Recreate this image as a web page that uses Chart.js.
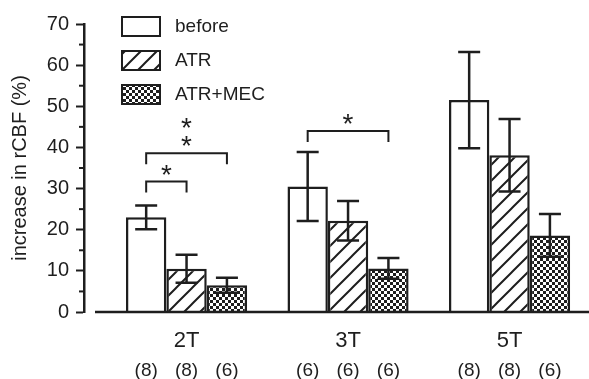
<!DOCTYPE html>
<html lang="en">
<head>
    <meta charset="UTF-8">
    <title>rCBF increase</title>
    <style>
        body {
            margin: 0;
            padding: 0;
            background-color: #ffffff;
        }
        #wrap {
            width: 589px;
            height: 379px;
        }
    </style>
</head>
<body>
    <div id="wrap">
        <canvas id="myChart" width="589" height="379"></canvas>
    </div>

    <script src="https://cdn.jsdelivr.net/npm/chart.js"></script>
    <script>
        // Data
        const categories = ['2T', '3T', '5T'];
        const seriesLabels = ['before', 'ATR', 'ATR+MEC'];

        const beforeMean = [23.0, 30.5, 51.5];
        const beforeSem = [2.9, 8.4, 11.7];
        const atrMean = [10.5, 22.2, 38.1];
        const atrSem = [3.4, 4.8, 8.8];
        const mecMean = [6.5, 10.6, 18.6];
        const mecSem = [1.8, 2.5, 5.2];

        const beforeN = [8, 6, 8];
        const atrN = [8, 6, 8];
        const mecN = [6, 6, 6];

        const yMin = 0;
        const yMax = 70;
        const yStep = 10;

        // significance brackets: category, first series, second series, height, number of stars
        const bracketCat = [0, 0, 1];
        const bracketFrom = [0, 0, 0];
        const bracketTo = [1, 2, 2];
        const bracketLevel = [31.7, 38.6, 44.0];
        const bracketStars = [1, 2, 1];

        const ink = '#1e1e1e';
        const means = [beforeMean, atrMean, mecMean];
        const sems = [beforeSem, atrSem, mecSem];
        const counts = [beforeN, atrN, mecN];

        const ctx = document.getElementById('myChart').getContext('2d');

        // fill patterns
        function hatchPattern() {
            const c = document.createElement('canvas');
            c.width = 16;
            c.height = 16;
            const g = c.getContext('2d');
            g.fillStyle = '#ffffff';
            g.fillRect(0, 0, 16, 16);
            g.strokeStyle = ink;
            g.lineWidth = 2;
            g.beginPath();
            g.moveTo(-2, 18); g.lineTo(18, -2);
            g.moveTo(-2, 2); g.lineTo(2, -2);
            g.moveTo(14, 18); g.lineTo(18, 14);
            g.stroke();
            return ctx.createPattern(c, 'repeat');
        }

        function checkerPattern() {
            const c = document.createElement('canvas');
            c.width = 6;
            c.height = 6;
            const g = c.getContext('2d');
            g.fillStyle = '#ffffff';
            g.fillRect(0, 0, 6, 6);
            g.fillStyle = ink;
            g.fillRect(0, 0, 3, 3);
            g.fillRect(3, 3, 3, 3);
            return ctx.createPattern(c, 'repeat');
        }

        const fills = ['#ffffff', hatchPattern(), checkerPattern()];

        const countTicks = [];
        categories.forEach((c, i) => {
            [-0.25, 0, 0.25].forEach((off, j) => {
                countTicks.push({ value: i + off, label: '(' + counts[j][i] + ')' });
            });
        });

        const xMin = -0.635;
        const xMax = 2.492;

        const decor = {
            id: 'decor',
            afterDatasetsDraw(chart) {
                const c = chart.ctx;
                const y = chart.scales.y;
                const area = chart.chartArea;
                c.save();
                c.strokeStyle = ink;
                c.fillStyle = ink;

                // baseline
                const y0 = y.getPixelForValue(0);
                c.lineWidth = 2.5;
                c.beginPath();
                c.moveTo(area.left + 11, y0);
                c.lineTo(area.right, y0);
                c.stroke();

                // minor ticks
                c.lineWidth = 2;
                for (let v = yMin + yStep / 2; v < yMax; v += yStep) {
                    const p = y.getPixelForValue(v);
                    c.beginPath();
                    c.moveTo(area.left - 5, p);
                    c.lineTo(area.left, p);
                    c.stroke();
                }

                // error bars
                c.lineWidth = 2.5;
                chart.data.datasets.forEach((ds, d) => {
                    const meta = chart.getDatasetMeta(d);
                    meta.data.forEach((el, i) => {
                        const hi = y.getPixelForValue(means[d][i] + sems[d][i]);
                        const lo = y.getPixelForValue(means[d][i] - sems[d][i]);
                        c.beginPath();
                        c.moveTo(el.x, hi);
                        c.lineTo(el.x, lo);
                        c.moveTo(el.x - 11, hi);
                        c.lineTo(el.x + 11, hi);
                        c.moveTo(el.x - 11, lo);
                        c.lineTo(el.x + 11, lo);
                        c.stroke();
                    });
                });

                // brackets with stars
                c.lineWidth = 2;
                c.font = '28px "Liberation Sans", Arial, sans-serif';
                c.textAlign = 'center';
                c.textBaseline = 'alphabetic';
                bracketCat.forEach((cat, k) => {
                    const x1 = chart.getDatasetMeta(bracketFrom[k]).data[cat].x;
                    const x2 = chart.getDatasetMeta(bracketTo[k]).data[cat].x;
                    const py = y.getPixelForValue(bracketLevel[k]);
                    c.beginPath();
                    c.moveTo(x1, py + 11);
                    c.lineTo(x1, py);
                    c.lineTo(x2, py);
                    c.lineTo(x2, py + 11);
                    c.stroke();
                    for (let s = 0; s < bracketStars[k]; s++) {
                        c.fillText('*', (x1 + x2) / 2, py + 2 - s * 18);
                    }
                });

                // legend
                c.font = '19px "Liberation Sans", Arial, sans-serif';
                c.textAlign = 'left';
                c.textBaseline = 'middle';
                chart.data.datasets.forEach((ds, d) => {
                    const bx = area.left + 38;
                    const by = 17 + d * 34;
                    c.fillStyle = ds.backgroundColor;
                    c.fillRect(bx, by, 38, 19);
                    c.lineWidth = 2;
                    c.strokeRect(bx, by, 38, 19);
                    c.fillStyle = ink;
                    c.fillText(ds.label, bx + 53, by + 10);
                });
                c.restore();
            }
        };

        const chart = new Chart(ctx, {
            type: 'bar',
            data: {
                datasets: seriesLabels.map((label, d) => ({
                    label: label,
                    data: means[d].map((v, i) => ({ x: i, y: v })),
                    backgroundColor: fills[d],
                    borderColor: ink,
                    borderWidth: 2.5,
                    categoryPercentage: 0.75,
                    barPercentage: 1.0
                }))
            },
            options: {
                responsive: false,
                animation: false,
                events: [],
                layout: {
                    padding: { top: 24, right: 0, bottom: 0, left: 0 }
                },
                plugins: {
                    legend: { display: false },
                    tooltip: { enabled: false }
                },
                scales: {
                    x: {
                        type: 'linear',
                        offset: false,
                        min: xMin,
                        max: xMax,
                        grid: { display: false, drawTicks: false, offset: false },
                        border: { display: false },
                        afterBuildTicks: (scale) => {
                            scale.ticks = categories.map((c, i) => ({ value: i }));
                        },
                        afterFit: (scale) => { scale.height = 42; },
                        ticks: {
                            autoSkip: false,
                            maxRotation: 0,
                            padding: 16,
                            color: ink,
                            font: { size: 22, family: '"Liberation Sans", Arial, sans-serif' },
                            callback: (value, index) => categories[index]
                        }
                    },
                    xn: {
                        type: 'linear',
                        position: 'bottom',
                        offset: false,
                        min: xMin,
                        max: xMax,
                        grid: { display: false, drawTicks: false, offset: false },
                        border: { display: false },
                        afterBuildTicks: (scale) => {
                            scale.ticks = countTicks.map(t => ({ value: t.value }));
                        },
                        afterFit: (scale) => { scale.height = 25; },
                        ticks: {
                            autoSkip: false,
                            maxRotation: 0,
                            padding: 5,
                            color: ink,
                            font: { size: 19, family: '"Liberation Sans", Arial, sans-serif' },
                            callback: (value, index) => countTicks[index].label
                        }
                    },
                    y: {
                        min: yMin,
                        max: yMax,
                        afterFit: (scale) => { scale.width = 84; },
                        grid: {
                            display: true,
                            drawOnChartArea: false,
                            drawTicks: true,
                            tickLength: 8,
                            tickWidth: 2,
                            tickColor: ink
                        },
                        border: { display: true, width: 2.5, color: ink },
                        ticks: {
                            stepSize: yStep,
                            padding: 7,
                            color: ink,
                            font: { size: 20, family: '"Liberation Sans", Arial, sans-serif' }
                        },
                        title: {
                            display: true,
                            text: 'increase in rCBF (%)',
                            color: ink,
                            padding: { top: 8, bottom: 0 },
                            font: { size: 20, family: '"Liberation Sans", Arial, sans-serif' }
                        }
                    }
                }
            },
            plugins: [decor]
        });
    </script>
</body>
</html>
